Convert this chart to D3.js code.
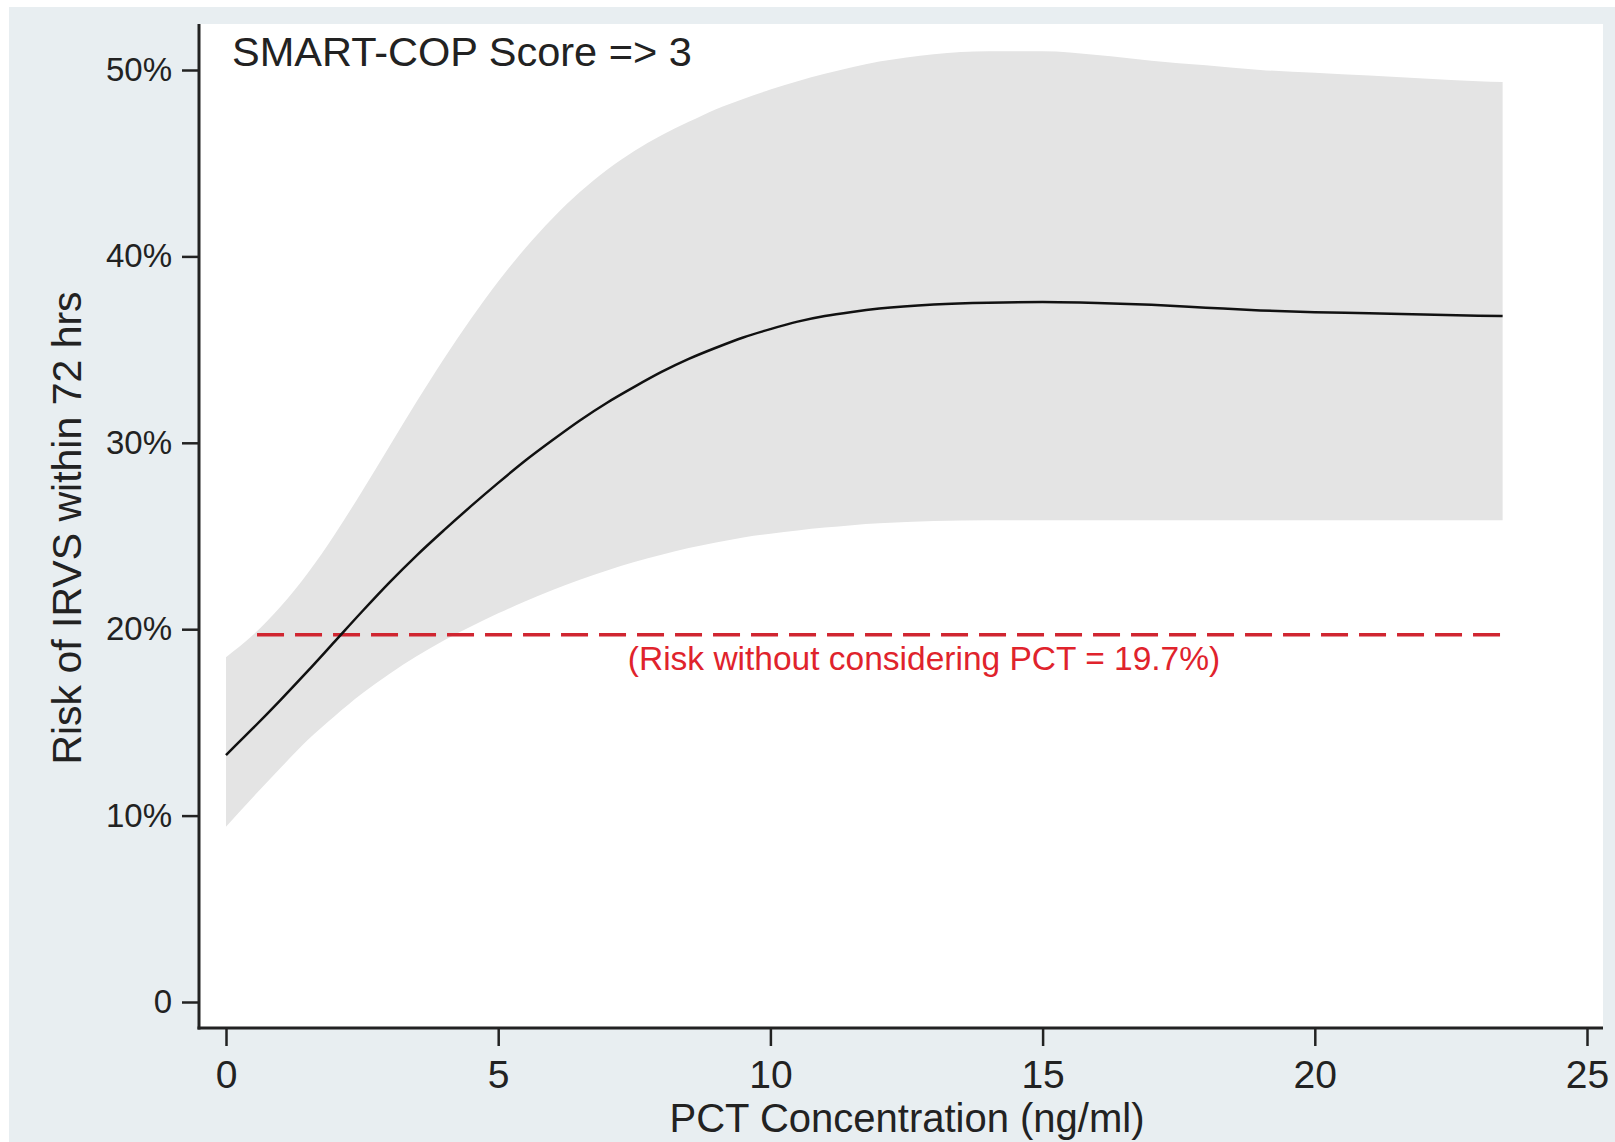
<!DOCTYPE html>
<html>
  <head>
    <meta charset="utf-8">
    <title>PCT risk</title>
    <script src="https://d3js.org/d3.v7.min.js"></script>
    <style>
      body { margin: 0; background: #fff; }
      text { font-family: "Liberation Sans", Arial, sans-serif; }
    </style>
  </head>
  <body>
    <script type="text/javascript">
      // PCT concentration (ng/ml) and risk (%)
      var pct   = [0, 0.5, 1, 1.5, 2, 2.5, 3, 3.5, 4, 4.5, 5, 5.5, 6, 6.5, 7, 7.5, 8, 8.5, 9, 9.5,
                   10, 10.5, 11, 11.5, 12, 13, 14, 15, 16, 17, 18, 19, 20, 21, 22, 23, 23.45];
      var risk  = [13.25, 14.7, 16.2, 17.75, 19.35, 20.95, 22.5, 23.95, 25.3, 26.6, 27.85, 29.05, 30.15, 31.2, 32.15, 33.0, 33.8, 34.5, 35.1, 35.65,
                   36.1, 36.5, 36.8, 37.02, 37.2, 37.42, 37.52, 37.55, 37.5, 37.4, 37.25, 37.1, 37.0, 36.95, 36.88, 36.82, 36.8];
      var upper = [18.5, 19.7, 21.2, 23.0, 25.1, 27.4, 29.8, 32.2, 34.5, 36.65, 38.65, 40.45, 42.05, 43.45, 44.65, 45.65, 46.5, 47.22, 47.9, 48.45,
                   48.95, 49.4, 49.8, 50.15, 50.45, 50.85, 51.0, 51.0, 50.8, 50.5, 50.25, 50.0, 49.85, 49.7, 49.55, 49.4, 49.35];
      var lower = [9.4, 11.0, 12.55, 14.05, 15.35, 16.55, 17.6, 18.55, 19.4, 20.15, 20.85, 21.5, 22.1, 22.65, 23.15, 23.6, 24.0, 24.35, 24.65, 24.92,
                   25.12, 25.3, 25.45, 25.58, 25.68, 25.8, 25.85, 25.85, 25.85, 25.85, 25.85, 25.85, 25.85, 25.85, 25.85, 25.85, 25.85];
      var baseRisk = 19.7;
      var baseFrom = 0.57, baseTo = 23.45;
      var xTicks = [0, 5, 10, 15, 20, 25];
      var yTicks = [0, 10, 20, 30, 40, 50];
      var yTickLabels = ['0', '10%', '20%', '30%', '40%', '50%'];

      var rows = pct.map(function (d, i) {
        return { x: d, y: risk[i], lo: lower[i], hi: upper[i] };
      });

      var W = 1615, H = 1142;
      var svg = d3.select('body').append('svg')
                  .attr('width', W)
                  .attr('height', H);

      // outer background and plot region
      svg.append('rect').attr('x', 9).attr('y', 7).attr('width', W - 9).attr('height', H - 7)
         .attr('fill', '#e8eef1');
      svg.append('rect').attr('x', 199).attr('y', 24).attr('width', 1404).attr('height', 1004)
         .attr('fill', '#ffffff');

      var x = d3.scaleLinear().domain([0, 25]).range([226, 1587]);
      var y = d3.scaleLinear().domain([0, 50]).range([1002, 70]);

      // confidence band
      var band = d3.area()
                   .x(function (d) { return x(d.x); })
                   .y0(function (d) { return y(d.lo); })
                   .y1(function (d) { return y(d.hi); })
                   .curve(d3.curveMonotoneX);
      svg.append('path').datum(rows)
         .attr('d', band)
         .attr('fill', '#e4e4e4');

      // baseline risk
      svg.append('line')
         .attr('x1', x(baseFrom)).attr('x2', x(baseTo))
         .attr('y1', y(baseRisk)).attr('y2', y(baseRisk))
         .attr('stroke', '#d02530')
         .attr('stroke-width', 3.5)
         .attr('stroke-dasharray', '27,11');

      // fitted risk
      var line = d3.line()
                   .x(function (d) { return x(d.x); })
                   .y(function (d) { return y(d.y); })
                   .curve(d3.curveMonotoneX);
      svg.append('path').datum(rows)
         .attr('d', line)
         .attr('fill', 'none')
         .attr('stroke', '#111')
         .attr('stroke-width', 2.5);

      // axes
      var yAxis = d3.axisLeft(y)
                    .tickValues(yTicks)
                    .tickFormat(function (d, i) { return yTickLabels[i]; })
                    .tickSize(17)
                    .tickPadding(10)
                    .tickSizeOuter(0);
      var gy = svg.append('g').attr('transform', 'translate(199,0)').call(yAxis);
      gy.select('.domain').remove();
      gy.selectAll('line').attr('stroke', '#222').attr('stroke-width', 2.5);
      gy.selectAll('text').attr('font-size', 33).attr('fill', '#222')
        .attr('font-family', '"Liberation Sans", Arial, sans-serif');

      var xAxis = d3.axisBottom(x)
                    .tickValues(xTicks)
                    .tickSize(18)
                    .tickPadding(14)
                    .tickSizeOuter(0);
      var gx = svg.append('g').attr('transform', 'translate(0,1028)').call(xAxis);
      gx.select('.domain').remove();
      gx.selectAll('line').attr('stroke', '#222').attr('stroke-width', 2.5);
      gx.selectAll('text').attr('font-size', 39).attr('fill', '#222')
        .attr('font-family', '"Liberation Sans", Arial, sans-serif');

      svg.append('line').attr('x1', 199).attr('x2', 199).attr('y1', 24).attr('y2', 1029.5)
         .attr('stroke', '#222').attr('stroke-width', 3);
      svg.append('line').attr('x1', 197.5).attr('x2', 1603).attr('y1', 1028).attr('y2', 1028)
         .attr('stroke', '#222').attr('stroke-width', 3);

      // titles and notes
      svg.append('text')
         .attr('x', 232).attr('y', 66)
         .attr('font-size', 41.5).attr('fill', '#222')
         .text('SMART-COP Score => 3');

      svg.append('text')
         .attr('transform', 'translate(81,528) rotate(-90)')
         .attr('text-anchor', 'middle')
         .attr('font-size', 41).attr('fill', '#222')
         .text('Risk of IRVS within 72 hrs');

      svg.append('text')
         .attr('x', 907).attr('y', 1132)
         .attr('text-anchor', 'middle')
         .attr('font-size', 40).attr('fill', '#222')
         .text('PCT Concentration (ng/ml)');

      svg.append('text')
         .attr('x', 924).attr('y', 670)
         .attr('text-anchor', 'middle')
         .attr('font-size', 33.5).attr('fill', '#e0232c')
         .text('(Risk without considering PCT = 19.7%)');
    </script>
  </body>
</html>
